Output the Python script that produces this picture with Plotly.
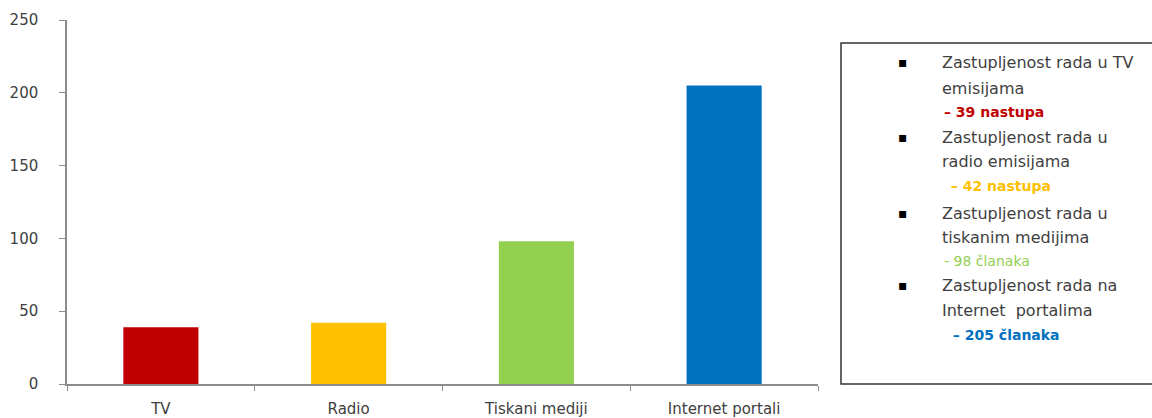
import plotly.graph_objects as go

categories = ['TV', 'Radio', 'Tiskani mediji', 'Internet portali']
values = [39, 42, 98, 205]
bar_colors = ['#C00000', '#FFC000', '#92D050', '#0070C0']
y_ticks = [0, 50, 100, 150, 200, 250]

# legend box text (two description lines + one coloured count line per entry)
legend_lines = [
    ('Zastupljenost rada u TV', 'emisijama', '– {} nastupa'),
    ('Zastupljenost rada u', 'radio emisijama', ' – {} nastupa'),
    ('Zastupljenost rada u', 'tiskanim medijima', '- {} članaka'),
    ('Zastupljenost rada na', 'Internet  portalima', ' – {} članaka'),
]

W, H = 1152, 418
L, R, T, B = 67, 818, 20, 384


def px_x(x):
    return (x - L) / (R - L)


def px_y(y):
    return (B - y) / (B - T)


fig = go.Figure(go.Bar(
    x=categories, y=values, marker_color=bar_colors,
    marker_line_width=0, width=0.4,
))

fig.update_layout(
    width=W, height=H,
    margin=dict(l=L, r=W - R, t=T, b=H - B, autoexpand=False),
    plot_bgcolor='white', paper_bgcolor='white',
    showlegend=False,
    font=dict(family='DejaVu Sans', color='#404040', size=15),
)
fig.update_yaxes(
    range=[0, 250], tickvals=y_ticks, showgrid=False, zeroline=False,
    showline=True, linecolor='#8c8c8c', linewidth=1.5,
    ticks='outside', ticklen=6, tickcolor='#8c8c8c', ticklabelstandoff=18,
    tickfont=dict(size=15, color='#404040'),
)
fig.update_xaxes(
    showgrid=False, showline=True, linecolor='#8c8c8c', linewidth=1.5,
    ticks='outside', ticklen=5, tickcolor='#8c8c8c', tickson='boundaries',
    ticklabelstandoff=10,
    tickfont=dict(size=15, color='#404040'),
)

# legend box
fig.add_shape(type='rect', xref='paper', yref='paper',
              x0=px_x(841), x1=px_x(1170), y0=px_y(384), y1=px_y(43),
              line=dict(color='#333333', width=1.5), fillcolor='white')

line_y = [62, 88, 112, 137, 162, 186, 213, 237, 261, 285, 310, 335]
count_x = [942, 944, 942, 946]
for i, (a, b, c) in enumerate(legend_lines):
    y1, y2, y3 = line_y[3 * i:3 * i + 3]
    fig.add_annotation(xref='paper', yref='paper', x=px_x(903), y=px_y(y1),
                       text='▪', showarrow=False, xanchor='center', yanchor='middle',
                       font=dict(size=14, color='black'))
    for txt, yy in ((a, y1), (b, y2)):
        fig.add_annotation(xref='paper', yref='paper', x=px_x(940), y=px_y(yy),
                           text=txt, showarrow=False, xanchor='left', yanchor='middle',
                           font=dict(size=16, color='#404040'))
    bold = i != 2
    label = c.format(values[i])
    fig.add_annotation(xref='paper', yref='paper', x=px_x(count_x[i]), y=px_y(y3),
                       text=f'<b>{label}</b>' if bold else label,
                       showarrow=False, xanchor='left', yanchor='middle',
                       font=dict(size=14, color=bar_colors[i]))

fig.write_html('out.html', config={'displayModeBar': False},
               post_script="document.body.style.margin='0';")
